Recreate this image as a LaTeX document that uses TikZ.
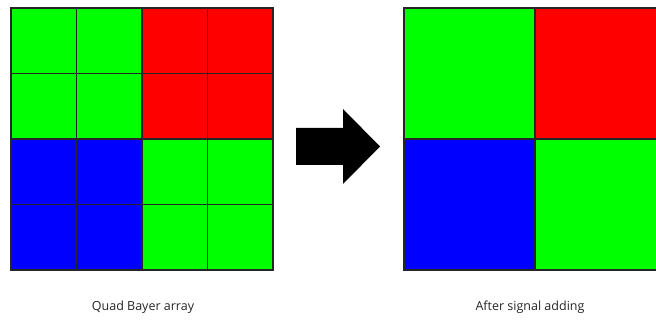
\documentclass[tikz,border=0pt]{standalone}
\usepackage{fontspec}
\setmainfont{Open Sans}
\definecolor{pg}{RGB}{0,255,0}
\definecolor{pr}{RGB}{255,0,0}
\definecolor{pb}{RGB}{0,0,255}
\begin{document}
\begin{tikzpicture}[x=1pt,y=-1pt,
  small/.style={draw=black!85, line width=1.2pt, minimum size=65.5pt, inner sep=0pt, outer sep=0pt},
  big/.style={draw=black!85, line width=1.2pt, minimum size=131pt, inner sep=0pt, outer sep=0pt},
  caption/.style={font=\fontsize{12.5}{14}\selectfont, text=black!85}]
\useasboundingbox (0,0) rectangle (656,320);
\clip (0,0) rectangle (656,320);
% left grid
\foreach \r/\c/\col [count=\i] in {0/0/pg,0/1/pg,0/2/pr,0/3/pr,
                        1/0/pg,1/1/pg,1/2/pr,1/3/pr,
                        2/0/pb,2/1/pb,2/2/pg,2/3/pg,
                        3/0/pb,3/1/pb,3/2/pg,3/3/pg}
  \node[small, fill=\col] (L\r\c) at ({11+32.75+65.5*\c},{8+32.75+65.5*\r}) {};
% right grid
\node[big, fill=pg] (R00) at (469.5,73.5) {};
\node[big, fill=pr] (R01) at (600.5,73.5) {};
\node[big, fill=pb] (R10) at (469.5,204.5) {};
\node[big, fill=pg] (R11) at (600.5,204.5) {};
% arrow
\fill[black] (296,128) -- (343,128) -- (343,109) -- (380,146.5) -- (343,184) -- (343,165) -- (296,165) -- cycle;
% captions
\node[caption] (capL) at (143,307) {Quad Bayer array};
\node[caption] (capR) at (530,307) {After signal adding};
\end{tikzpicture}
\end{document}
